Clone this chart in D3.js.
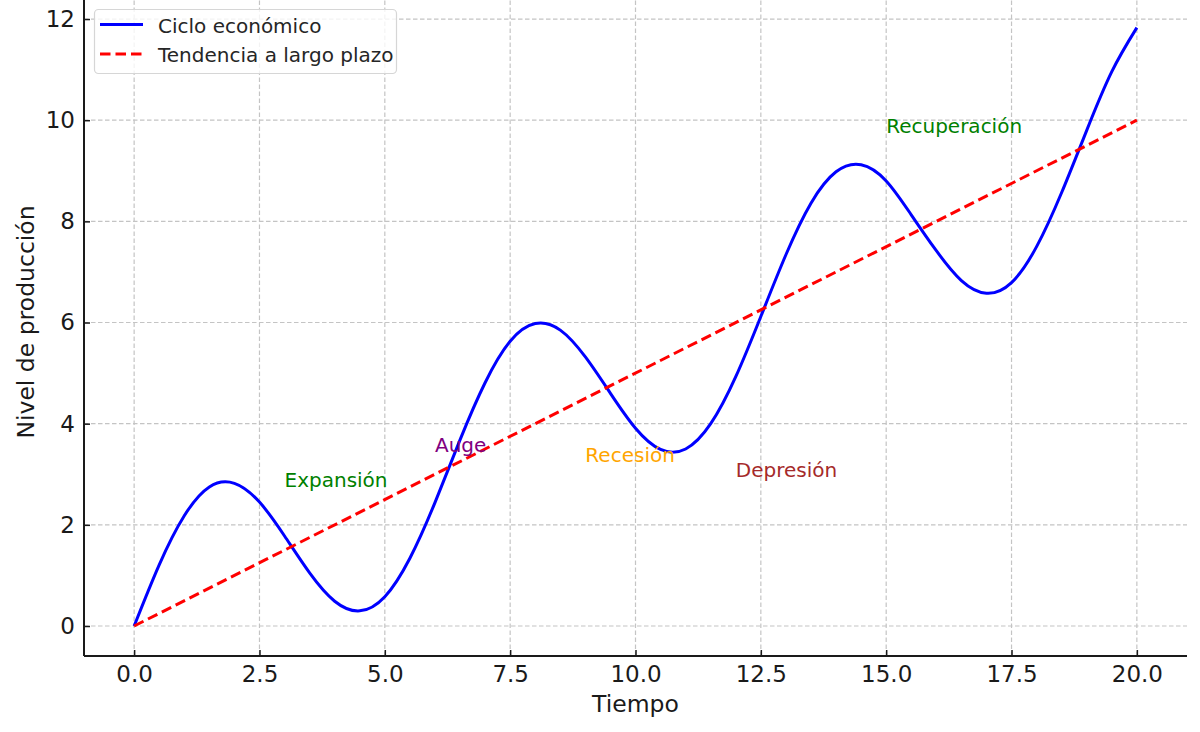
<!DOCTYPE html>
<html>
<head>
<meta charset="utf-8">
<script src="https://cdn.jsdelivr.net/npm/d3@7"></script>
<style>
	body { margin: 0; background: #fff; }
	svg { display: block; font-family: "DejaVu Sans", sans-serif; }
</style>
</head>
<body>
<div id="container"></div>
<script>
// tiempo (eje x) y valores
let tiempo = [0, 0.5, 1, 1.5, 2, 2.5, 3, 3.5, 4, 4.5, 5, 5.5, 6, 6.5, 7, 7.5, 8, 8.5, 9, 9.5, 10,
	10.5, 11, 11.5, 12, 12.5, 13, 13.5, 14, 14.5, 15, 15.5, 16, 16.5, 17, 17.5, 18, 18.5, 19, 19.5, 20];
let ciclo = [0, 1.21, 2.18, 2.75, 2.82, 2.45, 1.78, 1.05, 0.49, 0.30, 0.58, 1.34, 2.44, 3.68, 4.81, 5.63, 5.98, 5.85, 5.32, 4.60, 3.91,
	3.49, 3.50, 4.00, 4.93, 6.12, 7.34, 8.36, 8.98, 9.12, 8.80, 8.13, 7.42, 6.83, 6.58, 6.79, 7.50, 8.57, 9.80, 10.96, 11.83];
let tendenciaX = [0, 20];
let tendencia = [0, 10];

let xTicks = [0, 2.5, 5, 7.5, 10, 12.5, 15, 17.5, 20];
let yTicks = [0, 2, 4, 6, 8, 10, 12];

let etiquetas = ['Expansión', 'Auge', 'Recesión', 'Depresión', 'Recuperación'];
let etiquetasX = [3, 6, 9, 12, 15];
let etiquetasY = [2.8, 3.5, 3.3, 3.0, 9.8];
let etiquetasColor = ['green', 'purple', 'orange', 'brown', 'green'];

let series = ['Ciclo económico', 'Tendencia a largo plazo'];

let options = {
	width: 1200,
	height: 732,
	left: 84,
	right: 1187,
	top: -2.2,
	bottom: 656
};

let svg = d3.select('#container')
	.append('svg')
	.attr('width', options.width)
	.attr('height', options.height);

let x = d3.scaleLinear().domain([-1, 21]).range([options.left, options.right]);
let y = d3.scaleLinear().domain([-0.593, 12.42]).range([options.bottom, options.top]);

svg.append('clipPath').attr('id', 'plot')
	.append('rect')
	.attr('x', options.left).attr('y', 0)
	.attr('width', options.right - options.left)
	.attr('height', options.bottom);

// rejilla
let grid = svg.append('g');
grid.selectAll('.gx').data(xTicks).enter().append('line')
	.attr('x1', d => x(d)).attr('x2', d => x(d))
	.attr('y1', options.bottom).attr('y2', 0)
	.attr('stroke', '#c4c4c4').attr('stroke-width', 1.2)
	.attr('stroke-dasharray', '4.5,2.5');
grid.selectAll('.gy').data(yTicks).enter().append('line')
	.attr('x1', options.left).attr('x2', options.right)
	.attr('y1', d => y(d)).attr('y2', d => y(d))
	.attr('stroke', '#c4c4c4').attr('stroke-width', 1.2)
	.attr('stroke-dasharray', '4.5,2.5');

// lineas
let plot = svg.append('g').attr('clip-path', 'url(#plot)');
let line = d3.line()
	.x((d, i) => x(tiempo[i]))
	.y(d => y(d))
	.curve(d3.curveNatural);
plot.append('path')
	.datum(ciclo)
	.attr('d', line)
	.attr('fill', 'none')
	.attr('stroke', 'blue')
	.attr('stroke-width', 3);

let lineT = d3.line()
	.x((d, i) => x(tendenciaX[i]))
	.y(d => y(d));
plot.append('path')
	.datum(tendencia)
	.attr('d', lineT)
	.attr('fill', 'none')
	.attr('stroke', 'red')
	.attr('stroke-width', 3)
	.attr('stroke-dasharray', '10.5,5');

// etiquetas de fases
svg.selectAll('.fase').data(etiquetas).enter().append('text')
	.attr('x', (d, i) => x(etiquetasX[i]))
	.attr('y', (d, i) => y(etiquetasY[i]) + 3)
	.attr('fill', (d, i) => etiquetasColor[i])
	.style('font-size', '20px')
	.text(d => d);

// ejes
let xAxis = svg.append('g')
	.attr('transform', 'translate(0,' + options.bottom + ')')
	.call(d3.axisBottom(x).tickValues(xTicks).tickFormat(d3.format('.1f')).tickSizeInner(-6).tickSizeOuter(0).tickPadding(10));
let yAxis = svg.append('g')
	.attr('transform', 'translate(' + options.left + ',0)')
	.call(d3.axisLeft(y).tickValues(yTicks).tickFormat(d3.format('d')).tickSizeInner(-6).tickSizeOuter(0).tickPadding(9));

[xAxis, yAxis].forEach(a => {
	a.select('.domain').attr('stroke', '#1a1a1a').attr('stroke-width', 2);
	a.selectAll('.tick line').attr('stroke', '#1a1a1a').attr('stroke-width', 1.5);
	a.selectAll('.tick text').attr('fill', '#1a1a1a')
		.style('font-size', '23px').style('font-family', '"DejaVu Sans", sans-serif');
});
yAxis.select('.domain').attr('d', 'M0,' + options.bottom + 'V0');
xAxis.select('.domain').attr('d', 'M' + options.left + ',0H' + options.right);

svg.append('text')
	.attr('x', (options.left + options.right) / 2)
	.attr('y', 712)
	.attr('text-anchor', 'middle')
	.attr('fill', '#1a1a1a')
	.style('font-size', '23.5px')
	.text('Tiempo');
svg.append('text')
	.attr('transform', 'translate(33.5,322) rotate(-90)')
	.attr('text-anchor', 'middle')
	.attr('fill', '#1a1a1a')
	.style('font-size', '23.5px')
	.text('Nivel de producción');

// leyenda
let legend = svg.append('g');
legend.append('rect')
	.attr('x', 94.5).attr('y', 9.5)
	.attr('width', 302).attr('height', 64)
	.attr('rx', 4)
	.attr('fill', 'white').attr('fill-opacity', 0.8)
	.attr('stroke', '#d6d6d6').attr('stroke-width', 1.2);
let rows = legend.selectAll('.row').data(series).enter().append('g')
	.attr('transform', (d, i) => 'translate(0,' + (24.5 + i * 29.5) + ')');
rows.append('line')
	.attr('x1', 100).attr('x2', 143)
	.attr('stroke', (d, i) => i == 0 ? 'blue' : 'red')
	.attr('stroke-width', 3)
	.attr('stroke-dasharray', (d, i) => i == 0 ? null : '10.5,5');
rows.append('text')
	.attr('x', 158).attr('y', 8)
	.attr('fill', '#262626')
	.style('font-size', '20px')
	.text(d => d);
</script>
</body>
</html>
